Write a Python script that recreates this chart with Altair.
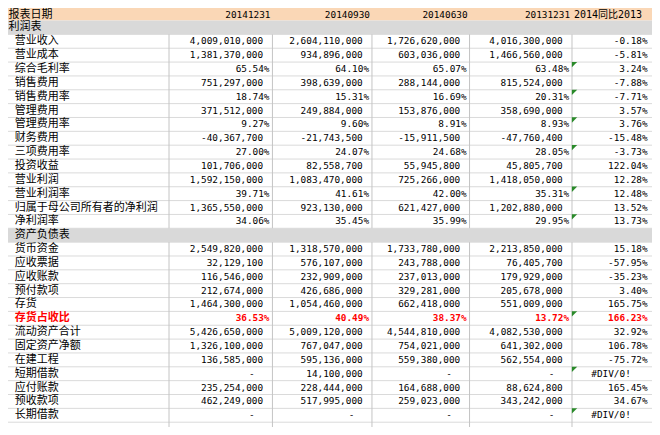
import altair as alt
import pandas as pd

# ---------------- data ----------------
first_title = "报表日期"
dates = ["20141231", "20140930", "20140630", "20131231"]
yoy_title = "2014同比2013"

row_labels = ["利润表", "营业收入", "营业成本", "综合毛利率", "销售费用", "销售费用率",
              "管理费用", "管理费用率", "财务费用", "三项费用率", "投资收益", "营业利润",
              "营业利润率", "归属于母公司所有者的净利润", "净利润率", "资产负债表", "货币资金",
              "应收票据", "应收账款", "预付款项", "存货", "存货占收比", "流动资产合计",
              "固定资产净额", "在建工程", "短期借款", "应付账款", "预收款项", "长期借款"]
section_rows = ["利润表", "资产负债表"]
pct_rows = ["综合毛利率", "销售费用率", "管理费用率", "三项费用率", "营业利润率", "净利润率", "存货占收比"]
flag_rows = pct_rows + ["短期借款", "长期借款"]
highlight_row = "存货占收比"

v20141231 = [None, 4009010000, 1381370000, 65.54, 751297000, 18.74, 371512000, 9.27, -40367700, 27.00,
             101706000, 1592150000, 39.71, 1365550000, 34.06, None, 2549820000, 32129100, 116546000,
             212674000, 1464300000, 36.53, 5426650000, 1326100000, 136585000, 0, 235254000, 462249000, 0]
v20140930 = [None, 2604110000, 934896000, 64.10, 398639000, 15.31, 249884000, 9.60, -21743500, 24.07,
             82558700, 1083470000, 41.61, 923130000, 35.45, None, 1318570000, 576107000, 232909000,
             426686000, 1054460000, 40.49, 5009120000, 767047000, 595136000, 14100000, 228444000, 517995000, 0]
v20140630 = [None, 1726620000, 603036000, 65.07, 288144000, 16.69, 153876000, 8.91, -15911500, 24.68,
             55945800, 725266000, 42.00, 621427000, 35.99, None, 1733780000, 243788000, 237013000,
             329281000, 662418000, 38.37, 4544810000, 754021000, 559380000, 0, 164688000, 259023000, 0]
v20131231 = [None, 4016300000, 1466560000, 63.48, 815524000, 20.31, 358690000, 8.93, -47760400, 28.05,
             45805700, 1418050000, 35.31, 1202880000, 29.95, None, 2213850000, 76405700, 179929000,
             205678000, 551009000, 13.72, 4082530000, 641302000, 562554000, 0, 88624800, 343242000, 0]
yoy = [None, -0.18, -5.81, 3.24, -7.88, -7.71, 3.57, 3.76, -15.48, -3.73, 122.04, 12.28, 12.48, 13.52,
       13.73, None, 15.18, -57.95, -35.23, 3.40, 165.75, 166.23, 32.92, 106.78, -75.72, None, 165.45,
       34.67, None]
period_values = [v20141231, v20140930, v20140630, v20131231]

# ---------------- layout ----------------
W, H = 644, 419            # drawn size
REF_W, REF_H = 660, 435    # reference units
COL_EDGES = [0, 165, 271, 373, 473, 578, 660]
ROW_H = 14.38
ROW0 = -1.38
N_ROWS = len(row_labels) + 2   # header + rows + partial row

def top(k):
    return ROW0 + ROW_H * k

def mid(k):
    return top(k) + ROW_H / 2

C_HEAD = "#FAD7B6"
C_SECT = "#D9D9D9"
C_HLINE = "#DADADA"
C_VLINE = "#C4C4C4"
C_RED = "#FF0000"
C_FLAG = "#2A8A2A"

CJK = "Noto Sans CJK SC"
MONO = "DejaVu Sans Mono"
FS_CJK = 11.0
FS_NUM = 9.4

# backgrounds
bg = [dict(x=0, x2=REF_W, y=top(0), y2=top(1), c=C_HEAD)]
for lab in section_rows:
    k = row_labels.index(lab) + 1
    bg.append(dict(x=0, x2=REF_W, y=top(k), y2=top(k + 1), c=C_SECT))
bg = pd.DataFrame(bg)

# horizontal lines
hl = pd.DataFrame([dict(x=0, x2=REF_W, y=top(k)) for k in range(2, N_ROWS + 1)])

# vertical lines (data blocks only)
s2 = row_labels.index(section_rows[1]) + 1
blocks = [(2, s2), (s2 + 1, N_ROWS + 1)]
vl = pd.DataFrame([dict(x=e, y=top(a), y2=top(b)) for e in COL_EDGES[1:-1] for a, b in blocks])

# flags
fl = pd.DataFrame([dict(x=COL_EDGES[5] + 2.6, y=top(row_labels.index(r) + 1) + 2.6) for r in flag_rows])

# text cells
cells = []
def add(x, y, t, align, font, size, color="#000000", bold=False):
    cells.append(dict(x=x, y=y, t=t, align=align, font=font, size=size, c=color, bold=bold))

head_y = mid(0) + 1.2
add(0.5, head_y, first_title, "left", CJK, FS_CJK)
for i, d in enumerate(dates):
    add(COL_EDGES[i + 2] - 2, head_y, d, "right", MONO, FS_NUM)
add(COL_EDGES[5] + 2, head_y, yoy_title, "left", MONO + ", " + CJK, 10.0)

for r, lab in enumerate(row_labels):
    k = r + 1
    red = lab == highlight_row
    col = C_RED if red else "#000000"
    lx = 0.5 if lab == section_rows[0] else 7
    add(lx, mid(k), lab, "left", CJK, FS_CJK, col, red)
    if lab in section_rows:
        continue
    for j, vals in enumerate(period_values):
        v = vals[r]
        edge = COL_EDGES[j + 2]
        if lab in pct_rows:
            add(edge - 3, mid(k), f"{v:.2f}%", "right", MONO, FS_NUM, col, red)
        elif v == 0:
            add(edge - 21, mid(k), "-", "center", MONO, FS_NUM, col, red)
        else:
            add(edge - 9.5, mid(k), f"{v:,.0f}", "right", MONO, FS_NUM, col, red)
    y = yoy[r]
    if y is None:
        add((COL_EDGES[5] + COL_EDGES[6]) / 2 - 1, mid(k), "#DIV/0!", "center", MONO, FS_NUM, col, red)
    else:
        add(REF_W - 4.5, mid(k), f"{y:.2f}%", "right", MONO, FS_NUM, col, red)
cells = pd.DataFrame(cells)

xs = alt.Scale(domain=[0, REF_W], range=[0, W], nice=False, zero=False)
ys = alt.Scale(domain=[0, REF_H], range=[0, H], nice=False, zero=False)

rects = alt.Chart(bg).mark_rect().encode(
    x=alt.X("x:Q", scale=xs, axis=None), x2="x2:Q",
    y=alt.Y("y:Q", scale=ys, axis=None), y2="y2:Q",
    color=alt.Color("c:N", scale=None))
hrules = alt.Chart(hl).mark_rule(color=C_HLINE, strokeWidth=1).encode(
    x=alt.X("x:Q", scale=xs, axis=None), x2="x2:Q", y=alt.Y("y:Q", scale=ys, axis=None))
vrules = alt.Chart(vl).mark_rule(color=C_VLINE, strokeWidth=1).encode(
    x=alt.X("x:Q", scale=xs, axis=None), y=alt.Y("y:Q", scale=ys, axis=None), y2="y2:Q")
flags = alt.Chart(fl).mark_point(shape="M-1,-1L1,-1L-1,1Z", filled=True, size=28,
                                 color=C_FLAG, opacity=1, strokeWidth=0).encode(
    x=alt.X("x:Q", scale=xs, axis=None), y=alt.Y("y:Q", scale=ys, axis=None))

layers = [rects, hrules, vrules, flags]
for (align, font, size, bold), g in cells.groupby(["align", "font", "size", "bold"]):
    layers.append(
        alt.Chart(g.drop(columns=["align", "font", "size", "bold"])).mark_text(
            align=align, baseline="middle", font=font, fontSize=float(size),
            fontWeight="bold" if bold else "normal").encode(
            x=alt.X("x:Q", scale=xs, axis=None), y=alt.Y("y:Q", scale=ys, axis=None),
            text="t:N", color=alt.Color("c:N", scale=None)))

chart = alt.layer(*layers).properties(
    width=W, height=H, padding=0, autosize=alt.AutoSizeParams(type="none"),
    background="#FFFFFF").configure_view(stroke=None)

chart.save("out.html", embed_options={"renderer": "svg", "actions": False})
